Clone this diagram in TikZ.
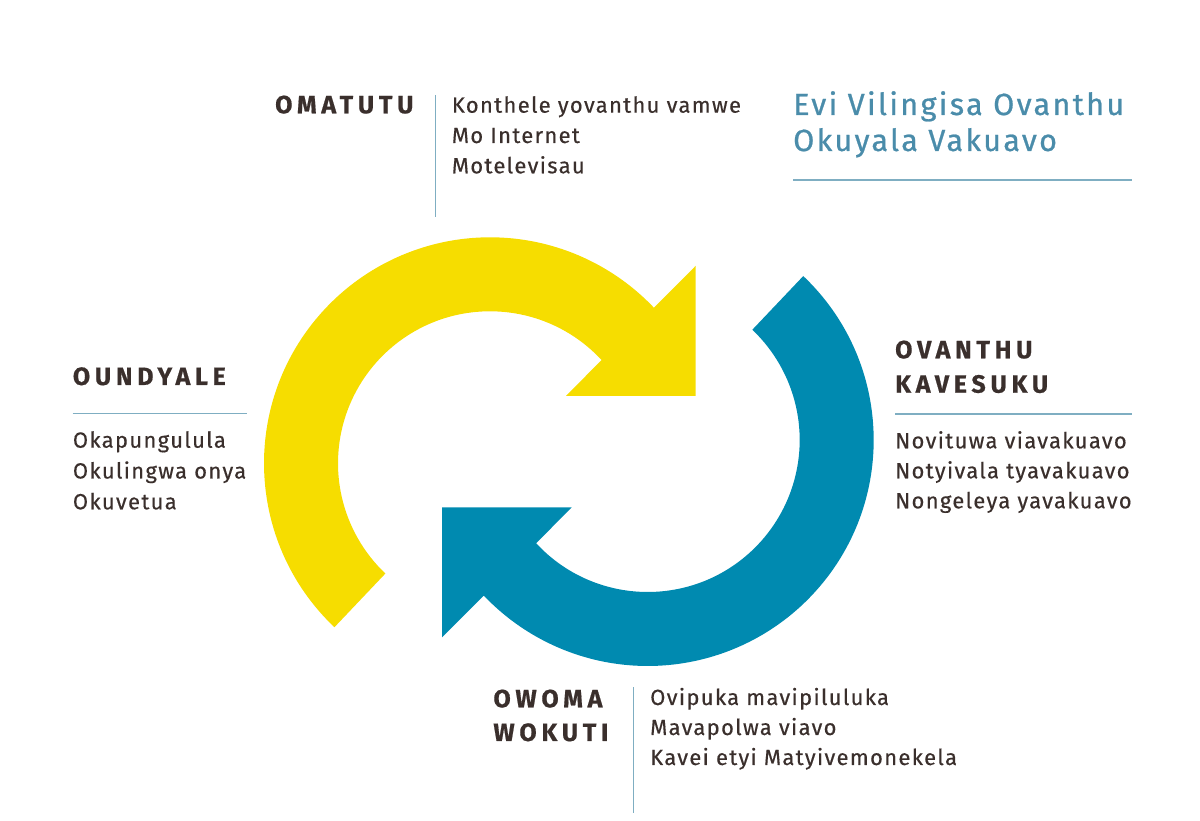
\documentclass[tikz,border=0pt]{standalone}
\usepackage{fontspec}
\setmainfont{Fira Sans}
\newfontfamily\listfont[LetterSpace=6,FakeBold=0.4]{Fira Sans}
\newfontfamily\headfont[LetterSpace=19,FakeBold=0.6]{Fira Sans}
\newfontfamily\titlefont[LetterSpace=7.8,FakeBold=0.8]{Fira Sans}
\usetikzlibrary{positioning}

\definecolor{arrowyellow}{HTML}{F6DD00}
\definecolor{arrowblue}{HTML}{008AB0}
\definecolor{inkbrown}{HTML}{3A2F2C}
\definecolor{titleblue}{HTML}{4A8CAA}
\definecolor{rulegray}{HTML}{7FAEC2}

\begin{document}
\begin{tikzpicture}[x=1pt,y=1pt,
    head/.style={anchor=base west,align=left,inner sep=0pt,text=inkbrown,
      font=\headfont\bfseries\fontsize{25}{34.4}\selectfont},
    list/.style={anchor=base west,align=left,inner sep=0pt,text=inkbrown,
      font=\listfont\fontsize{22}{30.3}\selectfont},
    rule/.style={rulegray,line width=1.3pt}]
        \useasboundingbox (0,0) rectangle (1200,821);

        % the two arrows
        \coordinate (yc) at (490,357.7);
        \coordinate (bc) at (647.7,381);
        \fill[arrowyellow] ([shift={(226.5:226)}]yc) arc[start angle=226.5, end angle=43.5, radius=226]
          -- (695.5,555) -- (695.5,425) -- (566,425)
          -- ([shift={(42.8:152)}]yc) arc[start angle=42.8, end angle=226.5, radius=152] -- cycle;
        \fill[arrowblue] ([shift={(46.5:226)}]bc) arc[start angle=46.5, end angle=-136.5, radius=226]
          -- (442.2,183.7) -- (442.2,313.7) -- (571.7,313.7)
          -- ([shift={(-137.2:152)}]bc) arc[start angle=-137.2, end angle=46.5, radius=152] -- cycle;

        % title (base = last line)
        \node [anchor=base west,align=left,inner sep=0pt,text=titleblue,
          font=\titlefont\fontsize{30.5}{36}\selectfont] (t) at (793,670)
          {Evi Vilingisa Ovanthu\\Okuyala Vakuavo};
        \draw[rule] (793,641) -- (1132,641);

        % top
        \node [head] (a) at (275,707.7) {OMATUTU};
        \draw[rule] (435.7,726) -- (435.7,604.3);
        \node [list] (b) at (451.7,647.7) {Konthele yovanthu vamwe\\Mo Internet\\Motelevisau};

        % left
        \node [head] (c) at (72.7,436) {OUNDYALE};
        \draw[rule] (72.7,407.7) -- (246.7,407.7);
        \node [list,font=\listfont\fontsize{22}{30.8}\selectfont] (d) at (72.7,311.7)
          {Okapungulula\\Okulingwa onya\\Okuvetua};

        % right
        \node [head] (e) at (895,428.3) {OVANTHU\\KAVESUKU};
        \draw[rule] (895,407) -- (1131.7,407);
        \node [list,font=\listfont\fontsize{22}{30}\selectfont] (f) at (895,312.7)
          {Novituwa viavakuavo\\Notyivala tyavakuavo\\Nongeleya yavakuavo};

        % bottom
        \node [head,font=\headfont\bfseries\fontsize{25}{33.7}\selectfont] (g) at (493.3,80) {OWOMA\\WOKUTI};
        \draw[rule] (633.3,133.7) -- (633.3,8.3);
        \node [list,font=\listfont\fontsize{22}{30}\selectfont] (h) at (650,56)
          {Ovipuka mavipiluluka\\Mavapolwa viavo\\Kavei etyi Matyivemonekela};
    \end{tikzpicture}
\end{document}
